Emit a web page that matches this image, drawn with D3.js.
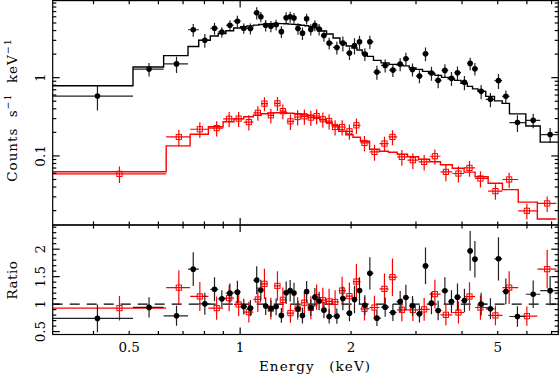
<!DOCTYPE html>
<html><head><meta charset="utf-8">
<script src="https://cdn.jsdelivr.net/npm/d3@7"></script>
<style>html,body{margin:0;padding:0;background:#fff}svg{display:block}text{font-family:"DejaVu Serif",serif;fill:#000}</style>
</head><body>
<svg id="c" width="560" height="374"></svg>
<script>
// ---------- DATA ----------
const blackEdges = [0.308,0.512,0.620,0.722,0.772,0.830,0.872,0.915,0.960,1.003,1.044,1.087,1.123,1.155,1.192,1.232,1.273,1.313,1.350,1.383,1.417,1.455,1.495,1.535,1.575,1.616,1.663,1.716,1.787,1.865,1.940,2.011,2.075,2.144,2.214,2.300,2.412,2.536,2.657,2.767,2.876,3.000,3.125,3.244,3.375,3.520,3.670,3.816,3.975,4.135,4.272,4.420,4.640,4.900,5.140,5.380,5.960,6.520,7.350];
const blackEnergy = [0.410,0.566,0.672,0.746,0.802,0.852,0.892,0.938,0.983,1.023,1.066,1.109,1.138,1.173,1.212,1.252,1.294,1.333,1.367,1.400,1.435,1.476,1.515,1.555,1.595,1.638,1.688,1.744,1.830,1.900,1.980,2.043,2.108,2.180,2.249,2.350,2.475,2.597,2.718,2.817,2.935,3.066,3.184,3.305,3.446,3.594,3.745,3.888,4.061,4.209,4.335,4.508,4.777,5.023,5.260,5.655,6.240,6.937];
const blackCounts = [0.582,1.287,1.500,4.095,3.008,4.280,3.839,4.674,5.272,4.280,4.254,6.748,5.998,4.674,4.552,4.743,3.873,5.841,5.998,5.790,4.254,3.706,5.655,4.131,4.674,4.168,3.463,2.763,2.435,2.763,2.060,2.582,2.879,2.000,2.879,1.179,1.435,1.250,1.491,1.747,1.276,1.048,2.024,1.145,0.924,1.239,0.980,1.158,0.871,1.522,1.303,0.669,0.529,0.916,0.577,0.267,0.285,0.1875];
const blackErr = [0.2,0.25,0.35,0.77,0.6,0.75,0.58,0.7,0.9,0.64,0.68,1.2,0.9,0.78,0.74,0.75,0.66,1.0,0.95,0.9,0.72,0.68,0.89,0.67,0.74,0.7,0.58,0.47,0.45,0.6,0.38,0.6,0.55,0.37,0.55,0.24,0.27,0.23,0.28,0.33,0.24,0.2,0.4,0.23,0.19,0.25,0.2,0.23,0.18,0.28,0.24,0.14,0.11,0.2,0.11,0.065,0.06,0.04];
const blackModel = [0.788,1.369,1.913,2.507,3.008,3.403,3.673,3.977,4.304,4.471,4.592,4.701,4.784,4.840,4.898,4.927,4.912,4.884,4.840,4.798,4.743,4.687,4.606,4.485,4.329,4.155,3.942,3.620,3.219,2.779,2.545,2.399,2.262,2.041,1.869,1.663,1.545,1.478,1.457,1.414,1.334,1.276,1.203,1.135,1.070,1.009,0.965,0.924,0.846,0.774,0.720,0.669,0.577,0.506,0.470,0.345,0.241,0.150];
const blackRatio = [0.74,0.94,0.787,1.636,1.005,1.27,1.096,1.2,1.218,0.956,0.927,1.436,1.255,0.964,0.92,0.951,0.795,1.207,1.245,1.203,0.91,0.793,1.227,0.933,1.123,1.056,0.89,0.775,0.781,1.103,0.836,1.084,1.247,0.98,1.56,0.745,0.945,0.847,1.047,1.12,0.969,0.824,1.696,1.018,0.884,1.242,1.047,1.127,1.066,1.969,1.818,1.0,0.915,1.824,1.23,0.775,1.18,1.245];
const blackRatioErr = [0.254,0.183,0.183,0.307,0.2,0.22,0.158,0.176,0.209,0.143,0.148,0.255,0.188,0.161,0.151,0.152,0.134,0.205,0.196,0.188,0.152,0.145,0.193,0.149,0.171,0.168,0.147,0.13,0.14,0.216,0.149,0.25,0.243,0.181,0.294,0.144,0.175,0.156,0.192,0.233,0.18,0.157,0.333,0.203,0.178,0.248,0.207,0.249,0.213,0.362,0.333,0.209,0.191,0.395,0.234,0.188,0.249,0.267];

const redEdges = [0.311,0.630,0.7315,0.820,0.899,0.962,1.023,1.086,1.140,1.188,1.237,1.284,1.338,1.401,1.463,1.525,1.584,1.644,1.710,1.777,1.851,1.935,2.024,2.121,2.245,2.389,2.527,2.668,2.845,3.050,3.267,3.497,3.764,4.052,4.340,4.709,5.150,5.684,6.404,7.215];
const redEnergy = [0.4705,0.6817,0.7774,0.8635,0.9336,0.9907,1.0559,1.1169,1.1639,1.2114,1.2624,1.3058,1.3692,1.4322,1.4938,1.5555,1.6126,1.6762,1.7435,1.8101,1.8911,1.9793,2.0678,2.1746,2.3148,2.4639,2.5902,2.7466,2.9424,3.1574,3.3765,3.6164,3.9119,4.1914,4.4884,4.9290,5.3703,5.9980,6.8095];
const redCounts = [0.0590,0.1747,0.2191,0.2270,0.2982,0.2999,0.2706,0.3556,0.4660,0.3305,0.4701,0.3739,0.2771,0.3144,0.3209,0.3090,0.3238,0.2938,0.2796,0.2344,0.2344,0.2065,0.2463,0.1465,0.1125,0.1439,0.1747,0.0971,0.0882,0.0839,0.0991,0.0625,0.0596,0.0703,0.0515,0.0355,0.0500,0.0199,0.0247];
const redErr = [0.014,0.042,0.05,0.05,0.065,0.065,0.06,0.075,0.095,0.07,0.095,0.08,0.062,0.07,0.07,0.068,0.07,0.065,0.062,0.052,0.052,0.046,0.055,0.033,0.026,0.032,0.038,0.022,0.02,0.019,0.022,0.015,0.014,0.016,0.012,0.008,0.011,0.0045,0.0055];
const redModel = [0.0629,0.1345,0.1891,0.2358,0.2730,0.2982,0.3162,0.3305,0.3454,0.3525,0.3556,0.3556,0.3504,0.3454,0.3354,0.3257,0.3071,0.2895,0.2690,0.2428,0.2065,0.1864,0.1732,0.1540,0.1218,0.1148,0.1115,0.1051,0.0977,0.0908,0.0843,0.0772,0.0697,0.0620,0.0543,0.0448,0.0371,0.0257,0.0156];
const redRatio = [0.927,1.30,1.14,0.927,1.109,0.995,0.855,1.085,1.369,0.917,1.333,1.078,0.836,0.92,1.025,0.932,1.127,1.072,1.05,1.04,1.247,1.145,1.411,0.915,0.938,1.278,1.491,0.896,0.896,0.904,1.182,0.805,0.847,1.138,0.938,0.795,1.30,0.78,1.636];
const redRatioErr = [0.223,0.312,0.264,0.212,0.238,0.218,0.19,0.227,0.275,0.199,0.267,0.225,0.177,0.203,0.209,0.209,0.228,0.225,0.23,0.214,0.252,0.247,0.318,0.214,0.213,0.279,0.341,0.209,0.205,0.209,0.261,0.194,0.201,0.258,0.221,0.179,0.296,0.175,0.353];

const xTickLabels = [0.5, 1, 2, 5];
const countTickLabels = [0.1, 1];
const ratioTickLabels = [0.5, 1, 1.5, 2];
const xTitle = "Energy (keV)";
const ratioTitle = "Ratio";

// ---------- LAYOUT ----------
const L = 52.7, R = 558.3, T = 0.6, MID = 225, B = 334.5;
const svg = d3.select("#c");
const x = d3.scaleLog().domain([0.31, 7.3]).range([L, R]);
const yC = d3.scaleLog().domain([0.0131, 9.66]).range([MID, T]);
const yR = d3.scaleLinear().domain([0.447, 2.44]).range([B, MID]);

const defs = svg.append("defs");
defs.append("clipPath").attr("id","cpTop").append("rect").attr("x",L).attr("y",T).attr("width",R-L).attr("height",MID-T);
defs.append("clipPath").attr("id","cpBot").append("rect").attr("x",L).attr("y",MID).attr("width",R-L).attr("height",B-MID);

const BLK = "#000", BLKBAR = "#222", RED = "#ff0000";

function drawSet(g, edges, energy, vals, errs, ys, color, barColor, marker){
  const n = vals.length;
  const d = d3.range(n).map(i => ({lo:edges[i], hi:edges[i+1], e:energy[i], v:vals[i], err:errs[i]}));
  g.selectAll(null).data(d).join("line")
    .attr("x1", p => x(p.lo)).attr("x2", p => x(p.hi))
    .attr("y1", p => ys(p.v)).attr("y2", p => ys(p.v))
    .attr("stroke", barColor).attr("stroke-width", 1.2);
  g.selectAll(null).data(d).join("line")
    .attr("x1", p => x(p.e)).attr("x2", p => x(p.e))
    .attr("y1", p => ys(p.v + p.err)).attr("y2", p => ys(Math.max(p.v - p.err, ys===yC ? 0.001 : 0.01)))
    .attr("stroke", barColor).attr("stroke-width", 1.2);
  if (marker === "circle") {
    g.selectAll(null).data(d).join("circle")
      .attr("cx", p => x(p.e)).attr("cy", p => ys(p.v)).attr("r", 2.8).attr("fill", color);
  } else {
    g.selectAll(null).data(d).join("rect")
      .attr("x", p => x(p.e) - 2.6).attr("y", p => ys(p.v) - 2.6)
      .attr("width", 5.2).attr("height", 5.2)
      .attr("fill", "none").attr("stroke", color).attr("stroke-width", 1);
  }
}
function drawModel(g, edges, model, color){
  const pts = [];
  model.forEach((m,i) => { pts.push([x(edges[i]), yC(m)]); pts.push([x(edges[i+1]), yC(m)]); });
  g.append("path").attr("d", d3.line()(pts)).attr("fill","none")
    .attr("stroke", color).attr("stroke-width", 1.4);
}

// top panel
const gTop = svg.append("g").attr("clip-path","url(#cpTop)");
drawSet(gTop, blackEdges, blackEnergy, blackCounts, blackErr, yC, BLK, BLKBAR, "circle");
drawModel(gTop, blackEdges, blackModel, BLK);
drawSet(gTop, redEdges, redEnergy, redCounts, redErr, yC, RED, RED, "square");
drawModel(gTop, redEdges, redModel, RED);

// bottom panel
const gBot = svg.append("g").attr("clip-path","url(#cpBot)");
gBot.append("line").attr("x1",L).attr("x2",R).attr("y1",yR(1)).attr("y2",yR(1))
  .attr("stroke","#000").attr("stroke-width",1.2).attr("stroke-dasharray","10,7");
drawSet(gBot, redEdges, redEnergy, redRatio, redRatioErr, yR, RED, RED, "square");
drawSet(gBot, blackEdges, blackEnergy, blackRatio, blackRatioErr, yR, BLK, BLKBAR, "circle");

// frames
const axG = svg.append("g").attr("stroke","#000").attr("stroke-width",1.2).attr("fill","none");
axG.append("rect").attr("x",L).attr("y",T).attr("width",R-L).attr("height",MID-T);
axG.append("rect").attr("x",L).attr("y",MID).attr("width",R-L).attr("height",B-MID);

// ticks
const MAJ = 7, MIN = 3.6;
const xt = x.ticks().filter(v => v > 0.31 && v < 7.3);
const isDecade = v => Math.abs(Math.log10(v) - Math.round(Math.log10(v))) < 1e-6;
[[T,1],[MID,-1],[MID,1],[B,-1]].forEach(([yy,dir]) => {
  xt.forEach(v => {
    const len = isDecade(v) ? MAJ : MIN;
    axG.append("line").attr("x1",x(v)).attr("x2",x(v)).attr("y1",yy).attr("y2",yy+dir*len);
  });
});
const yt = yC.ticks().filter(v => v > 0.0131 && v < 9.66);
yt.forEach(v => {
  const len = isDecade(v) ? MAJ : MIN;
  axG.append("line").attr("x1",L).attr("x2",L+len).attr("y1",yC(v)).attr("y2",yC(v));
  axG.append("line").attr("x1",R).attr("x2",R-len).attr("y1",yC(v)).attr("y2",yC(v));
});
const rt = yR.ticks(20).filter(v => v > 0.447 && v < 2.44);
rt.forEach(v => {
  const major = Math.abs(v*2 - Math.round(v*2)) < 1e-6;
  const len = major ? MAJ : MIN;
  axG.append("line").attr("x1",L).attr("x2",L+len).attr("y1",yR(v)).attr("y2",yR(v));
  axG.append("line").attr("x1",R).attr("x2",R-len).attr("y1",yR(v)).attr("y2",yR(v));
});

// labels
const FS = 13.5;
xTickLabels.forEach(v => {
  svg.append("text").attr("x", x(v)).attr("y", 352).attr("text-anchor","middle")
    .attr("font-size", FS).text(String(v));
});
svg.append("text").attr("x", 315).attr("y", 371).attr("text-anchor","middle")
  .attr("font-size", FS).style("letter-spacing","1.1px").style("word-spacing","9px").text(xTitle);

countTickLabels.forEach(v => {
  svg.append("text").attr("transform", `translate(45,${yC(v)}) rotate(-90)`)
    .attr("text-anchor","middle").attr("font-size", FS).text(String(v));
});
ratioTickLabels.forEach(v => {
  svg.append("text").attr("transform", `translate(45,${yR(v)}) rotate(-90)`)
    .attr("text-anchor","middle").attr("font-size", FS).text(String(v));
});

const yl = svg.append("text").attr("transform","translate(17,110) rotate(-90)")
  .attr("text-anchor","middle").attr("font-size", FS)
  .style("letter-spacing","1px").style("word-spacing","5px");
yl.append("tspan").text("Counts s");
yl.append("tspan").attr("dy",-6).attr("font-size",9.5).text("\u22121");
yl.append("tspan").attr("dy",6).text(" keV");
yl.append("tspan").attr("dy",-6).attr("font-size",9.5).text("\u22121");

svg.append("text").attr("transform","translate(17,280) rotate(-90)")
  .attr("text-anchor","middle").attr("font-size", FS).style("letter-spacing","0.5px").text(ratioTitle);
</script>
</body></html>
